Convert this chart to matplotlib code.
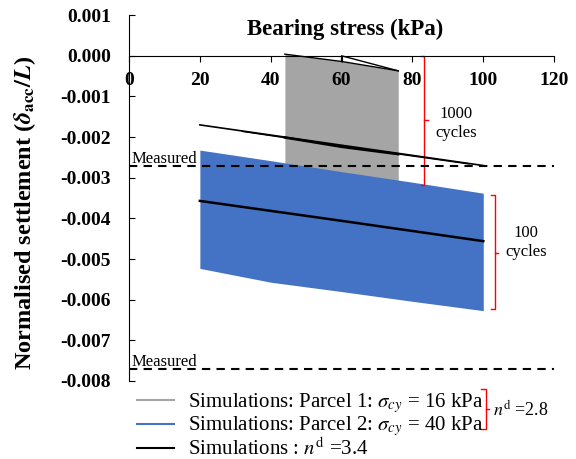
import matplotlib
matplotlib.use("Agg")
import matplotlib.pyplot as plt
from matplotlib.lines import Line2D
from matplotlib.ticker import FormatStrFormatter

plt.rcParams['font.family'] = ['Liberation Serif', 'DejaVu Serif']
plt.rcParams['mathtext.fontset'] = 'stix'
plt.rcParams['axes.unicode_minus'] = False

# Parcel 1 (grey band), sigma_cy = 16 kPa
p1_stress = [44, 60, 76]
p1_upper = [0.00004, -0.00014, -0.00037]
p1_lower = [-0.00268, -0.00286, -0.00311]
p1_edge_stress = [60, 60, 76]
p1_edge = [-0.00014, 0.0, -0.00037]

# Parcel 2 (blue band), sigma_cy = 40 kPa
p2_stress = [20, 40, 60, 80, 100]
p2_upper = [-0.00232, -0.00258, -0.00285, -0.00311, -0.00338]
p2_lower = [-0.00523, -0.00557, -0.00580, -0.00604, -0.00627]

# n_d = 3.4 simulations (black)
nd_1000_a_x = [20, 60, 100]
nd_1000_a_y = [-0.00170, -0.00220, -0.00270]
nd_1000_b_x = [32, 60, 96]
nd_1000_b_y = [-0.00186, -0.00222, -0.00266]
nd_1000_c_x = [44, 60, 76]
nd_1000_c_y = [-0.00201, -0.00224, -0.00242]
nd_100_x = [20, 60, 100]
nd_100_y = [-0.00357, -0.00406, -0.00456]

measured = [-0.0027, -0.0077]

x_ticks = [0, 20, 40, 60, 80, 100, 120]
y_ticks = [0.001, 0.0, -0.001, -0.002, -0.003, -0.004, -0.005, -0.006, -0.007, -0.008]

grey = '#A5A5A5'
blue = '#4472C4'

fig = plt.figure(figsize=(5.76, 4.59), dpi=100)
ax = fig.add_axes([0.224, 0.170, 0.738, 0.797])

ax.fill_between(p1_stress, p1_upper, p1_lower, color=grey, lw=0, zorder=1)
ax.plot(p1_stress, p1_upper, color='k', lw=1.0, zorder=3)
ax.plot(p1_edge_stress, p1_edge, color='k', lw=1.0, zorder=3)
ax.fill_between(p2_stress, p2_upper, p2_lower, color=blue, lw=0, zorder=2)

ax.plot(nd_1000_a_x, nd_1000_a_y, color='k', lw=1.2, zorder=4)
ax.plot(nd_1000_b_x, nd_1000_b_y, color='k', lw=1.0, zorder=4)
ax.plot(nd_1000_c_x, nd_1000_c_y, color='k', lw=1.8, zorder=4)
ax.plot(nd_100_x, nd_100_y, color='k', lw=1.8, zorder=4)

for m in measured:
    ax.axhline(m, color='k', lw=1.5, ls=(0, (4, 3)), zorder=5)
    ax.text(0.6, m - 0.00003, 'Measured', fontsize=12, va='bottom', ha='left')

# red brackets
red = '#FF0000'
ax.plot([82.5, 83.3, 83.3, 82.5], [0.0, 0.0, -0.00317, -0.00317], color=red, lw=1)
ax.plot([83.3, 84.3], [-0.00157, -0.00157], color=red, lw=1)
ax.text(92.4, -0.00167, '1000\ncycles', fontsize=12, ha='center', va='center', linespacing=1.3)
ax.plot([102.2, 103.2, 103.2, 102.2], [-0.00342, -0.00342, -0.00624, -0.00624], color=red, lw=1)
ax.plot([103.2, 104.2], [-0.00484, -0.00484], color=red, lw=1)
ax.text(112.1, -0.00459, '100\ncycles', fontsize=12, ha='center', va='center', linespacing=1.3)

ax.set_xlim(0, 120)
ax.set_ylim(-0.008, 0.001)
ax.spines['top'].set_visible(False)
ax.spines['right'].set_visible(False)
ax.spines['bottom'].set_position(('data', 0))
ax.set_xticks(x_ticks)
ax.set_yticks(y_ticks)
ax.yaxis.set_major_formatter(FormatStrFormatter('%.3f'))
ax.tick_params(axis='x', direction='out', length=4, pad=8, labelsize=14)
ax.tick_params(axis='y', direction='in', length=4, pad=13, labelsize=14)
for lbl in ax.get_xticklabels() + ax.get_yticklabels():
    lbl.set_fontweight('bold')

ax.text(61, 0.00066, 'Bearing stress (kPa)', fontsize=16.5, fontweight='bold',
        ha='center', va='center')
ax.set_ylabel(r'Normalised settlement ($\mathbfit{\delta}_{\mathbf{acc}}\mathbf{/}\mathbfit{L}$)',
              fontsize=17.5, fontweight='bold')
ax.yaxis.set_label_coords(-0.214, 0.459)

handles = [Line2D([], [], color=grey, lw=1.5),
           Line2D([], [], color=blue, lw=1.5),
           Line2D([], [], color='k', lw=1.5)]
labels = [r'Simulations: Parcel 1: $\sigma_{cy}$ = 16 kPa',
          r'Simulations: Parcel 2: $\sigma_{cy}$ = 40 kPa',
          r'Simulations : $n^{\mathrm{d}}$ =3.4']
fig.legend(handles, labels, loc='upper left', bbox_to_anchor=(0.238, 0.147),
           frameon=False, fontsize=15, handlelength=1.75, handletextpad=0.7,
           labelspacing=-0.04, borderpad=0, borderaxespad=0)

# bracket for first two legend entries
fig.add_artist(Line2D([0.835, 0.843, 0.843, 0.835], [0.152, 0.152, 0.065, 0.065],
                      color=red, lw=1, transform=fig.transFigure))
fig.add_artist(Line2D([0.843, 0.849], [0.108, 0.108], color=red, lw=1,
                      transform=fig.transFigure))
fig.text(0.856, 0.108, r'$n^{\mathrm{d}}$ =2.8', fontsize=13, va='center', ha='left')

fig.savefig('out.png', dpi=100)
